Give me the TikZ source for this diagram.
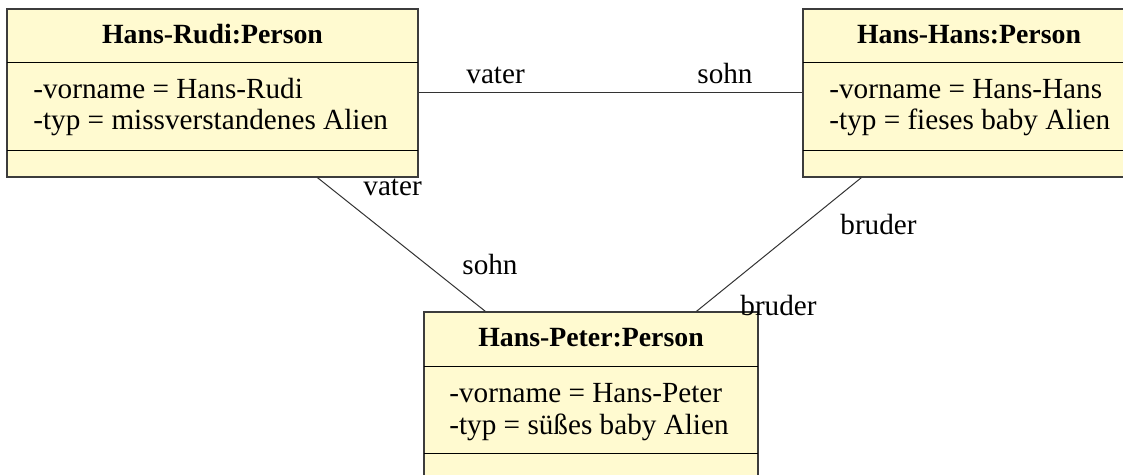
\documentclass[tikz,border=0pt]{standalone}
\usepackage{fontspec}
\setmainfont{Liberation Serif}
\usetikzlibrary{calc}
\definecolor{boxfill}{RGB}{255,250,208}
\definecolor{boxline}{RGB}{60,60,60}
\tikzset{
  umlbox/.style={draw=boxline, fill=boxfill, line width=0.6pt, inner sep=0pt, rectangle},
  divider/.style={draw=black, line width=0.5pt},
  conn/.style={draw=black!80, line width=0.5pt},
  txt/.style={inner sep=0pt, font=\fontsize{14.6}{17}\selectfont},
  hdr/.style={inner sep=0pt, font=\fontsize{13.9}{17}\selectfont\bfseries},
}
\begin{document}
\begin{tikzpicture}[x=0.5pt, y=-0.5pt]
\useasboundingbox (0,0) rectangle (1123,475);
% boxes
\node[umlbox, minimum width=205.5pt, minimum height=84pt] (r1) at (212.5,93) {};
\node[umlbox, minimum width=166pt, minimum height=84pt] (r2) at (969,93) {};
\node[umlbox, minimum width=167pt, minimum height=83.5pt] (r3) at (591,395.5) {};
% dividers
\draw[divider] (7,63) -- (418,63);
\draw[divider] (7,151) -- (418,151);
\draw[divider] (803,63) -- (1135,63);
\draw[divider] (803,151) -- (1135,151);
\draw[divider] (424,366) -- (758,366);
\draw[divider] (424,453) -- (758,453);
% texts
\node[hdr, anchor=base] (h1) at (212.5,44) {Hans-Rudi:Person};
\node[txt, anchor=base west] (a1) at (33,99) {-vorname = Hans-Rudi};
\node[txt, anchor=base west] (b1) at (33,130) {-typ = missverstandenes Alien};
\node[hdr, anchor=base] (h2) at (969,44) {Hans-Hans:Person};
\node[txt, anchor=base west] (a2) at (829,99) {-vorname = Hans-Hans};
\node[txt, anchor=base west] (b2) at (829,130) {-typ = fieses baby Alien};
\node[hdr, anchor=base] (h3) at (591,346) {Hans-Peter:Person};
\node[txt, anchor=base west] (a3) at (449,402) {-vorname = Hans-Peter};
\node[txt, anchor=base west] (b3) at (449,434) {-typ = süßes baby Alien};
% connectors
\draw[conn] (r1.east) -- (r2.west);
\draw[conn] ([xshift=155.5pt]r1.south west) -- ([xshift=31pt]r3.north west);
\draw[conn] ([xshift=29.5pt]r2.south west) -- ([xshift=136.5pt]r3.north west);
% role labels
\node[txt, anchor=base west] (l1) at (466,84) {vater};
\node[txt, anchor=base west] (l2) at (697,84) {sohn};
\node[txt, anchor=base west] (l3) at (363,196) {vater};
\node[txt, anchor=base west] (l4) at (462,275) {sohn};
\node[txt, anchor=base west] (l5) at (840,235) {bruder};
\node[txt, anchor=base west] (l6) at (740,316) {bruder};
\end{tikzpicture}
\end{document}
